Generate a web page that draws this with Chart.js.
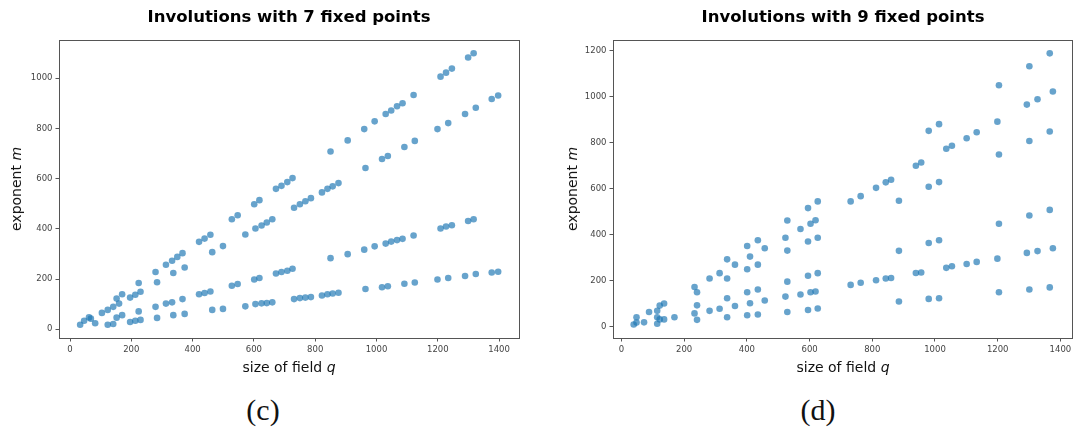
<!DOCTYPE html>
<html>
<head>
<meta charset="utf-8">
<script src="https://cdn.jsdelivr.net/npm/chart.js@4.4.1/dist/chart.umd.min.js"></script>
<style>
  body { margin: 0; width: 1078px; height: 430px; background: #fff; position: relative; overflow: hidden; font-family: 'DejaVu Sans', sans-serif; }
  canvas { position: absolute; top: 0; }
  .title { position: absolute; font-weight: bold; font-size: 16.5px; color: #000; transform: translate(-50%, -50%); white-space: nowrap; }
  .xlab { position: absolute; font-size: 14px; color: #111; transform: translate(-50%, -50%); white-space: nowrap; }
  .ylab { position: absolute; font-size: 14px; color: #111; transform: translate(-50%, -50%) rotate(-90deg); white-space: nowrap; }
  .sub { position: absolute; font-family: 'Liberation Serif', serif; font-size: 30px; color: #111; transform: translate(-50%, -50%); white-space: nowrap; }
</style>
</head>
<body>
<canvas id="chart-c" width="539" height="360" style="left:0"></canvas>
<canvas id="chart-d" width="524" height="360" style="left:554px"></canvas>

<div class="title" style="left:289px; top:16px">Involutions with 7 fixed points</div>
<div class="title" style="left:843px; top:16px">Involutions with 9 fixed points</div>
<div class="xlab" style="left:289px; top:367px">size of field <i>q</i></div>
<div class="xlab" style="left:843px; top:367px">size of field <i>q</i></div>
<div class="ylab" style="left:16px; top:189px">exponent <i>m</i></div>
<div class="ylab" style="left:572px; top:189px">exponent <i>m</i></div>
<div class="sub" style="left:263px; top:410px">(c)</div>
<div class="sub" style="left:818px; top:410px">(d)</div>

<script>
// ── DATA ──
// (c) 7 fixed points
const q7 = [33, 46, 62, 68, 82, 104, 123, 123, 141, 141, 152, 152, 160, 170, 170, 196, 196, 213, 213,
  224, 224, 230, 230, 279, 279, 284, 284, 313, 313, 333, 333, 337, 337, 350, 367, 367, 374, 374,
  421, 421, 439, 439, 458, 458, 464, 464, 499, 499, 528, 528, 547, 547, 572, 572, 601, 601,
  605, 605, 618, 618, 625, 625, 642, 642, 660, 660, 672, 672, 690, 690, 709, 709, 726, 726,
  731, 731, 750, 750, 768, 768, 786, 786, 822, 822, 840, 840, 850, 850, 857, 857, 876, 876,
  906, 906, 960, 960, 964, 964, 994, 994, 1018, 1018, 1030, 1030, 1037, 1037, 1048, 1048,
  1067, 1067, 1085, 1085, 1091, 1091, 1121, 1121, 1125, 1125, 1199, 1199, 1209, 1209,
  1227, 1227, 1234, 1234, 1246, 1246, 1289, 1289, 1299, 1299, 1317, 1317, 1324, 1324,
  1376, 1376, 1397, 1397]
const m7 = [18, 34, 47, 42, 24, 65, 77, 18, 89, 21, 122, 46, 102, 139, 56, 126, 29, 137, 34,
  184, 71, 149, 37, 228, 89, 187, 45, 257, 102, 273, 107, 224, 56, 288, 303, 120, 246, 61,
  348, 139, 361, 144, 376, 150, 307, 77, 331, 81, 438, 173, 454, 180, 377, 91, 498, 198,
  401, 100, 514, 204, 413, 103, 425, 104, 438, 107, 559, 222, 571, 228, 586, 233, 602, 241,
  484, 120, 498, 124, 510, 126, 522, 128, 545, 134, 559, 139, 708, 283, 569, 142, 582, 145,
  752, 299, 797, 317, 642, 160, 828, 330, 678, 167, 857, 341, 690, 171, 871, 349,
  888, 355, 900, 360, 726, 181, 933, 373, 750, 186, 797, 198, 1006, 401,
  1022, 409, 821, 204, 1038, 414, 857, 212, 1082, 431, 1099, 438, 882, 220,
  917, 226, 931, 229]

// (d) 9 fixed points
const q9 = [39, 48, 48, 72, 88, 114, 114, 114, 122, 122, 136, 136, 169, 233, 233, 241, 241, 241,
  281, 281, 313, 313, 337, 337, 337, 337, 362, 362, 401, 401, 401, 401, 410, 410,
  435, 435, 435, 435, 457, 457, 523, 523, 529, 529, 529, 529, 571, 571, 595, 595, 595, 595,
  603, 603, 619, 619, 626, 626, 626, 626, 731, 731, 763, 763, 812, 812, 843, 843, 860, 860,
  885, 885, 885, 939, 939, 956, 956, 980, 980, 980, 980, 1013, 1013, 1013, 1013,
  1036, 1036, 1054, 1054, 1101, 1101, 1133, 1133, 1199, 1199, 1204, 1204, 1204, 1204,
  1293, 1293, 1301, 1301, 1301, 1301, 1327, 1327, 1366, 1366, 1366, 1366, 1376, 1376]
const m9 = [9, 17, 40, 18, 63, 12, 40, 68, 31, 91, 100, 31, 40, 172, 57, 149, 92, 29,
  209, 68, 232, 77, 292, 209, 123, 40, 269, 89, 350, 249, 149, 49, 304, 101,
  375, 269, 161, 52, 340, 113, 386, 130, 461, 330, 195, 63, 424, 139, 515, 370, 221, 72,
  447, 149, 462, 152, 544, 386, 232, 78, 544, 181, 567, 190, 603, 201, 627, 209, 638, 211,
  547, 329, 109, 699, 233, 713, 235, 851, 608, 363, 120, 880, 628, 375, 123,
  773, 255, 786, 262, 819, 272, 845, 281, 891, 295, 1049, 748, 447, 149,
  965, 320, 1132, 807, 483, 161, 988, 328, 1188, 848, 507, 170, 1022, 340]

const xTicks = [0, 200, 400, 600, 800, 1000, 1200, 1400]
const yTicks7 = [0, 200, 400, 600, 800, 1000]
const yTicks9 = [0, 200, 400, 600, 800, 1000, 1200]

// ── CHARTS ──
const frame = {
  id: 'frame',
  afterDraw(chart) {
    const a = chart.chartArea, ctx = chart.ctx
    ctx.save()
    ctx.strokeStyle = '#555'
    ctx.lineWidth = 1
    ctx.strokeRect(Math.round(a.left) + 0.5, Math.round(a.top) + 0.5,
      Math.round(a.right - a.left), Math.round(a.bottom - a.top))
    ctx.restore()
  }
}

function axis(ticks, min, max, fitSize, isX) {
  return {
    type: 'linear',
    min, max,
    afterBuildTicks: s => { s.ticks = ticks.map(v => ({ value: v })) },
    afterFit: s => { if (isX) s.height = fitSize; else s.width = fitSize },
    grid: { drawOnChartArea: false, drawTicks: true, tickLength: 3.5, color: '#555' },
    border: { display: false },
    ticks: {
      color: '#444',
      font: { family: 'DejaVu Sans', size: 8.5 },
      padding: 3,
      autoSkip: false,
      maxRotation: 0,
      callback: v => String(v)
    }
  }
}

function makeChart(id, xs, ys, yTicks, xMin, xMax, yMin, yMax, pad) {
  const pts = xs.map((x, i) => ({ x, y: ys[i] }))
  return new Chart(document.getElementById(id), {
    type: 'scatter',
    data: {
      datasets: [{
        data: pts,
        backgroundColor: 'rgba(31,119,180,0.68)',
        borderWidth: 0,
        pointRadius: 3.3,
        pointHoverRadius: 3.3
      }]
    },
    options: {
      responsive: false,
      animation: false,
      devicePixelRatio: 1,
      layout: { padding: pad },
      plugins: { legend: { display: false }, tooltip: { enabled: false } },
      scales: {
        x: axis(xTicks, xMin, xMax, 22, true),
        y: axis(yTicks, yMin, yMax, 59, false)
      }
    },
    plugins: [frame]
  })
}

makeChart('chart-c', q7, m7, yTicks7, -36, 1465, -35, 1152, { top: 40, right: 20, left: 0, bottom: 0 })
makeChart('chart-d', q9, m9, yTicks9, -27, 1437, -50, 1246, { top: 40, right: 6, left: 0, bottom: 0 })
</script>
</body>
</html>
